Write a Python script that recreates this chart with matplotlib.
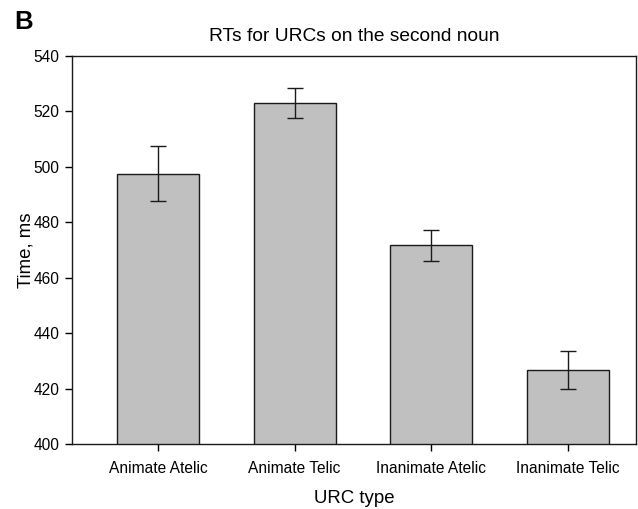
import matplotlib
matplotlib.use('Agg')
import matplotlib.pyplot as plt

# data
categories = ['Animate Atelic', 'Animate Telic', 'Inanimate Atelic', 'Inanimate Telic']
means = [497.5, 523.0, 471.7, 426.7]
errors = [10.0, 5.3, 5.5, 7.0]
y_ticks = [400, 420, 440, 460, 480, 500, 520, 540]

plt.rcParams['font.family'] = ['Liberation Sans', 'DejaVu Sans']

fig = plt.figure(figsize=(6.38, 5.09), dpi=100)
ax = fig.add_axes([0.1129, 0.1277, 0.884, 0.7623])

x = list(range(len(categories)))
ax.bar(x, means, width=0.6, color='#c0c0c0', edgecolor='#1a1a1a', linewidth=1.0, zorder=2)
ax.errorbar(x, means, yerr=errors, fmt='none', ecolor='#1a1a1a', elinewidth=1.0,
            capsize=6, capthick=1.0, zorder=3)

ax.set_xlim(-0.63, 3.5)
ax.set_ylim(400, 540)
ax.set_yticks(y_ticks)
ax.set_xticks(x)
ax.set_xticklabels(categories, fontsize=11.2)
ax.tick_params(axis='y', labelsize=11.2, direction='out', length=5, width=1, pad=4)
ax.tick_params(axis='x', direction='out', length=5, width=1, pad=7)
for side in ax.spines.values():
    side.set_linewidth(1.0)
    side.set_color('#1a1a1a')

ax.set_xlabel('URC type', fontsize=13.4)
ax.xaxis.set_label_coords(0.5, -0.118)
ax.set_ylabel('Time, ms', fontsize=13.4)
ax.yaxis.set_label_coords(-0.066, 0.5)
ax.set_title('RTs for URCs on the second noun', fontsize=13.8, pad=11)

fig.text(0.023, 0.957, 'B', fontsize=18.5, fontweight='bold', ha='left', va='center')

plt.savefig('out.png', dpi=100)
plt.close()
